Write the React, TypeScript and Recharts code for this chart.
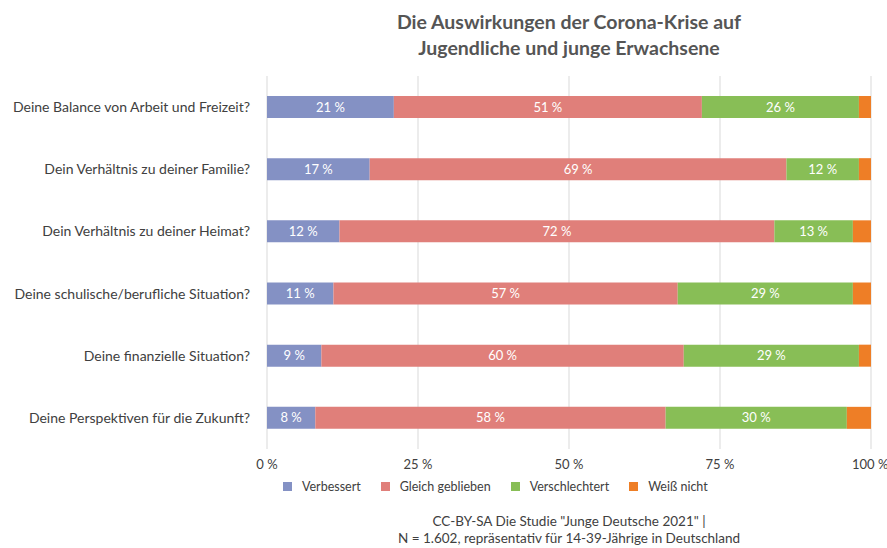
import React from 'react';
import { BarChart, Bar, XAxis, YAxis, CartesianGrid, LabelList } from 'recharts';

const categories = [
  'Deine Balance von Arbeit und Freizeit?',
  'Dein Verhältnis zu deiner Familie?',
  'Dein Verhältnis zu deiner Heimat?',
  'Deine schulische/berufliche Situation?',
  'Deine finanzielle Situation?',
  'Deine Perspektiven für die Zukunft?',
];
const verbessert = [21, 17, 12, 11, 9, 8];
const gleich = [51, 69, 72, 57, 60, 58];
const verschlechtert = [26, 12, 13, 29, 29, 30];
const weissNicht = [2, 2, 3, 3, 2, 4];
const xTicks = [0, 25, 50, 75, 100];

const series = [
  { key: 'verbessert', name: 'Verbessert', color: '#8491c4', label: true },
  { key: 'gleich', name: 'Gleich geblieben', color: '#e07f7a', label: true },
  { key: 'verschlechtert', name: 'Verschlechtert', color: '#88be56', label: true },
  { key: 'weiss', name: 'Weiß nicht', color: '#ee7e26', label: false },
];

const data = categories.map((name, i) => ({
  name,
  verbessert: verbessert[i],
  gleich: gleich[i],
  verschlechtert: verschlechtert[i],
  weiss: weissNicht[i],
}));

const FONT = "Lato, 'Open Sans', sans-serif";
const TEXT = '#404040';

export default function App() {
  return (
    <div style={{ position: 'relative', width: 887, height: 548, fontFamily: FONT }}>
      <style>{`body{margin:0}`}</style>
      <div
        style={{
          position: 'absolute',
          top: 9,
          left: 267,
          width: 604,
          textAlign: 'center',
          fontSize: 19.5,
          fontWeight: 700,
          lineHeight: '26px',
          color: '#555555',
        }}
      >
        Die Auswirkungen der Corona-Krise auf
        <br />
        Jugendliche und junge Erwachsene
      </div>
      <BarChart
        width={887}
        height={548}
        layout="vertical"
        data={data}
        margin={{ top: 76, right: 16, bottom: 69, left: 0 }}
        style={{ fontFamily: FONT }}
      >
        <CartesianGrid horizontal={false} stroke="#d9d9d9" />
        <XAxis
          type="number"
          domain={[0, 100]}
          ticks={xTicks}
          tickFormatter={(v) => `${v} %`}
          axisLine={false}
          tickLine={false}
          tick={{ fill: TEXT, fontSize: 13 }}
          tickMargin={5}
        />
        <YAxis
          type="category"
          dataKey="name"
          width={267}
          axisLine={false}
          tickLine={false}
          tick={{ fill: TEXT, fontSize: 14 }}
          tickMargin={11}
        />
        {series.map((s) => (
          <Bar
            key={s.key}
            dataKey={s.key}
            name={s.name}
            stackId="a"
            fill={s.color}
            barSize={22}
            isAnimationActive={false}
          >
            {s.label && (
              <LabelList
                dataKey={s.key}
                position="center"
                fill="#ffffff"
                fontSize={13}
                formatter={(v: any) => `${v} %`}
              />
            )}
          </Bar>
        ))}
      </BarChart>
      <div
        style={{
          position: 'absolute',
          top: 479,
          left: 283,
          display: 'flex',
          gap: 20,
          fontSize: 12.5,
          color: TEXT,
        }}
      >
        {series.map((s) => (
          <div key={s.key} style={{ display: 'flex', alignItems: 'center' }}>
            <span style={{ width: 9, height: 9, background: s.color, marginRight: 10, display: 'inline-block' }} />
            {s.name}
          </div>
        ))}
      </div>
      <div
        style={{
          position: 'absolute',
          top: 513,
          left: 267,
          width: 604,
          textAlign: 'center',
          fontSize: 13.5,
          lineHeight: '17px',
          color: TEXT,
        }}
      >
        CC-BY-SA Die Studie "Junge Deutsche 2021" |
        <br />
        N = 1.602, repräsentativ für 14-39-Jährige in Deutschland
      </div>
    </div>
  );
}
